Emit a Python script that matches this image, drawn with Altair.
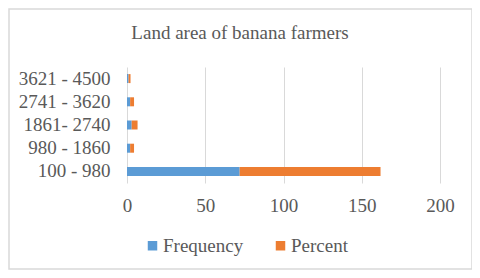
import altair as alt
import pandas as pd

categories = ["3621 - 4500", "2741 - 3620", "1861- 2740", "980 - 1860", "100 - 980"]
frequency = [1, 2, 3, 2, 72]
percent = [1.25, 2.5, 3.75, 2.5, 90]
series = ["Frequency", "Percent"]
colors = ["#5b9bd5", "#ed7d31"]
x_ticks = [0, 50, 100, 150, 200]
title_text = ["Land area of banana farmers"]

rows = []
for c, f, p in zip(categories, frequency, percent):
    rows.append({"range": c, "series": "Frequency", "value": f, "ord": 0})
    rows.append({"range": c, "series": "Percent", "value": p, "ord": 1})
df = pd.DataFrame(rows)

FONT = "Liberation Serif"
GRAY = "#595959"
FS = 19

bars = alt.Chart(df).mark_bar(size=9).encode(
    y=alt.Y("range:N", sort=categories, title=None,
            axis=alt.Axis(labelFont=FONT, labelFontSize=FS, labelColor=GRAY,
                          ticks=False, domain=False, labelPadding=17)),
    x=alt.X("value:Q", stack="zero", title=None,
            scale=alt.Scale(domain=[0, 200], nice=False),
            axis=alt.Axis(values=x_ticks, labelFont=FONT, labelFontSize=FS,
                          labelColor=GRAY, ticks=False, domain=False,
                          labelFlush=False,
                          grid=True, gridColor="#d9d9d9", labelPadding=13)),
    color=alt.Color("series:N", scale=alt.Scale(domain=series, range=colors),
                    legend=alt.Legend(title=None, orient="none", direction="horizontal",
                                      legendX=16, legendY=169,
                                      symbolType="square", symbolSize=90,
                                      symbolStrokeWidth=0,
                                      labelFont=FONT, labelFontSize=FS,
                                      labelColor=GRAY, columnPadding=27,
                                      labelOffset=1)),
    order=alt.Order("ord:Q"),
)

title = alt.Chart(pd.DataFrame({"t": title_text})).mark_text(
    font=FONT, fontSize=FS, color=GRAY, align="center", baseline="middle"
).encode(text="t:N", x=alt.value(113), y=alt.value(-34))

border = alt.Chart(pd.DataFrame({"a": [0]})).mark_rect(
    fill=None, stroke="#d9d9d9", strokeWidth=1.5, clip=False
).encode(
    x=alt.value(-118), x2=alt.value(345), y=alt.value(-58), y2=alt.value(202)
)

chart = alt.layer(bars, title, border).properties(
    width=313, height=116,
    padding={"left": 119, "top": 59, "right": 32, "bottom": 87},
    autosize=alt.AutoSizeParams(type="none"),
).configure_view(stroke=None)

chart.save("out.html", embed_options={"renderer": "svg", "actions": False})
